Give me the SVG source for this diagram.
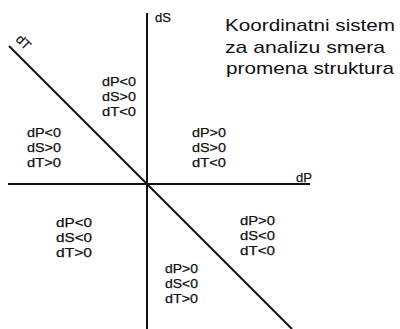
<svg xmlns="http://www.w3.org/2000/svg" width="400" height="329" viewBox="0 0 400 329">
<style>
.ax{stroke:#111;stroke-width:2;fill:none}
.lb{font-family:"Liberation Sans",Arial,sans-serif;font-size:13px;fill:#111;stroke:#111;stroke-width:0.25}
.tt{font-family:"Liberation Sans",Arial,sans-serif;font-size:17px;fill:#111}
</style>
<rect width="400" height="329" fill="#fff"/>
<g id="axes">
<line class="ax" x1="147" y1="13" x2="147" y2="329"/>
<line class="ax" x1="8" y1="184" x2="310" y2="184"/>
<line class="ax" x1="9" y1="46" x2="292" y2="329"/>
</g>
<g id="axis-labels">
<text class="lb" x="155" y="22">dS</text>
<text class="lb" x="296" y="182">dP</text>
<text class="lb" transform="translate(15,40) rotate(45)">dT</text>
</g>
<g id="title">
<text class="tt" x="225" y="31" textLength="170" lengthAdjust="spacingAndGlyphs">Koordinatni sistem</text>
<text class="tt" x="225" y="53" textLength="160" lengthAdjust="spacingAndGlyphs">za analizu smera</text>
<text class="tt" x="226" y="74" textLength="168" lengthAdjust="spacingAndGlyphs">promena struktura</text>
</g>
<g id="q1">
<text class="lb" x="102" y="85.5" textLength="34" lengthAdjust="spacingAndGlyphs">dP&lt;0</text>
<text class="lb" x="102" y="100.5" textLength="34" lengthAdjust="spacingAndGlyphs">dS&gt;0</text>
<text class="lb" x="102" y="115.5" textLength="34" lengthAdjust="spacingAndGlyphs">dT&lt;0</text>
</g>
<g id="q2">
<text class="lb" x="27" y="136.5" textLength="34" lengthAdjust="spacingAndGlyphs">dP&lt;0</text>
<text class="lb" x="27" y="151.5" textLength="34" lengthAdjust="spacingAndGlyphs">dS&gt;0</text>
<text class="lb" x="27" y="166.5" textLength="34" lengthAdjust="spacingAndGlyphs">dT&gt;0</text>
</g>
<g id="q3">
<text class="lb" x="192" y="137" textLength="34" lengthAdjust="spacingAndGlyphs">dP&gt;0</text>
<text class="lb" x="192" y="152" textLength="34" lengthAdjust="spacingAndGlyphs">dS&gt;0</text>
<text class="lb" x="192" y="167" textLength="34" lengthAdjust="spacingAndGlyphs">dT&lt;0</text>
</g>
<g id="q4">
<text class="lb" x="56" y="226.5" textLength="36" lengthAdjust="spacingAndGlyphs">dP&lt;0</text>
<text class="lb" x="56" y="241.5" textLength="36" lengthAdjust="spacingAndGlyphs">dS&lt;0</text>
<text class="lb" x="56" y="256.5" textLength="36" lengthAdjust="spacingAndGlyphs">dT&gt;0</text>
</g>
<g id="q5">
<text class="lb" x="240" y="225" textLength="35" lengthAdjust="spacingAndGlyphs">dP&gt;0</text>
<text class="lb" x="240" y="240" textLength="35" lengthAdjust="spacingAndGlyphs">dS&lt;0</text>
<text class="lb" x="240" y="255" textLength="35" lengthAdjust="spacingAndGlyphs">dT&lt;0</text>
</g>
<g id="q6">
<text class="lb" x="165" y="273" textLength="33" lengthAdjust="spacingAndGlyphs">dP&gt;0</text>
<text class="lb" x="165" y="288" textLength="33" lengthAdjust="spacingAndGlyphs">dS&lt;0</text>
<text class="lb" x="165" y="303" textLength="33" lengthAdjust="spacingAndGlyphs">dT&gt;0</text>
</g>
</svg>
